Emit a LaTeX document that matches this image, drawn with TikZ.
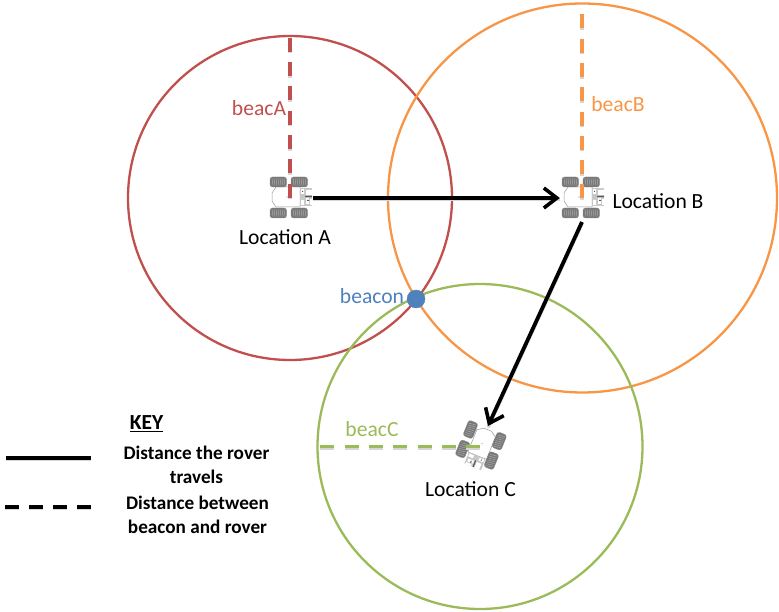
\documentclass[tikz,border=0pt]{standalone}
\usepackage{fontspec}
\setmainfont{Carlito}
\usetikzlibrary{arrows.meta}
\definecolor{cred}{RGB}{192,80,77}
\definecolor{corange}{RGB}{247,150,70}
\definecolor{cgreen}{RGB}{155,187,89}
\definecolor{cblue}{RGB}{79,129,189}
\definecolor{tyre}{RGB}{120,120,120}
\tikzset{
  ring/.style={circle,draw=#1,line width=2.3pt,fill=none,inner sep=0pt},
  shad/.style={preaction={draw=black!16,line width=3.6pt,-,transform canvas={yshift=-1.6pt}}},
  shaddash/.style={preaction={draw=black!16,line width=3.6pt,dash pattern=on 14pt off 10.3pt,transform canvas={yshift=-1.6pt}}},
  beacline/.style={shaddash,draw=#1,line width=3.8pt,dash pattern=on 14pt off 10.3pt},
  lbl/.style={font=\fontsize{21.6}{26}\selectfont,inner sep=0pt,text=#1},
  keytext/.style={font=\bfseries\fontsize{19.2}{23.6}\selectfont,inner sep=0pt,align=center},
  travel/.style={shad,draw=black,line width=3.8pt,-{Straight Barb[length=13pt,width=20pt,line width=3.6pt]}},
  roverbox/.style={minimum width=44pt,minimum height=40pt,inner sep=0pt,draw=none},
  tyrepart/.style={fill=tyre,draw=black!45,line width=.4pt,rounded corners=2.5pt},
  rover/.pic={
    \draw[black!40,line width=.5pt,fill=white] (-14,-11) -- (10,-11) -- (10,9) -- (-14,9)
       -- (-18,3) -- (-18,-5) -- cycle;
    \fill[black!45] (-3,-1) circle (.6);
    \foreach \p in {(-20,-21),(1,-21),(-20,10),(1,10)}
      \draw[tyrepart] \p rectangle ++(16.5,10);
    \foreach \y in {-21,10}{\foreach \x in {-18,-16,-14,-12,-10,-8,-6,3,5,7,9,11,13,15}{
      \draw[black!32,line width=.45pt] (\x,\y+1.5) -- (\x+1,\y+8.5);}}
    \fill[black!22] (10,-10) rectangle (22,8);
    \fill[white] (11,-9) rectangle (14,-4) (11,2) rectangle (14,7) (16,-8) rectangle (22,-3) (16,0) rectangle (19,6) (20,1) rectangle (22,7);
    \fill[black!65] (15,-2) rectangle (22,-.8) (17,2) rectangle (19,3) (12,-7) rectangle (13,-6);
  }
}
\begin{document}
\begin{tikzpicture}[x=1pt,y=-1pt]
\useasboundingbox (0,0) rectangle (779,612);
% circles
\node[ring=cred,minimum size=324pt] (cA) at (290,198) {};
\node[ring=corange,minimum size=389pt] (cB) at (582.5,198) {};
\node[ring=cgreen,minimum size=325pt] (cC) at (480,446.5) {};
% rovers
\node[roverbox] (rA) at (290,198) {};
\node[roverbox] (rB) at (582,198) {};
\node[inner sep=0pt,minimum size=30pt] (rC) at (480,446) {};
\pic at (rA) {rover};
\pic at (rB) {rover};
\pic[rotate=-112] at (rC) {rover};
% distance lines
\draw[beacline=cred] (cA.north) ++(0,3) -- (rA.center);
\draw[beacline=corange] (cB.north) ++(-.5,12) -- (rB.center);
\draw[beacline=cgreen] (cC.west) ++(4,0) -- (rC.center |- cC.west);
% travel arrows
\coordinate (bOut) at (582,222);
\coordinate (cIn) at (488,426);
\draw[travel] (rA.east) ++(1,0) -- (rB.west);
\draw[travel] (bOut) -- (cIn);
% beacon
\node[circle,fill=cblue,draw=cblue,inner sep=0pt,minimum size=18pt] (bc) at (416,299) {};
% labels
\node[lbl=cred] (lA) at (259,108) {beacA};
\node[lbl=corange] (lB) at (618,104) {beacB};
\node[lbl=cgreen] (lC) at (372,429) {beacC};
\node[lbl=cblue] (lD) at (372,296) {beacon};
\node[lbl=black] (la) at (285,237) {Location A};
\node[lbl=black] (lb) at (658,201) {Location B};
\node[lbl=black] (lc) at (470.5,489) {Location C};
% key
\node[keytext,font=\bfseries\fontsize{21.5}{25}\selectfont] (key) at (146.5,424) {\underline{KEY}};
\node[keytext] (k1) at (196.5,465) {Distance the rover\\travels};
\node[keytext] (k2) at (197.5,515) {Distance between\\beacon and rover};
\coordinate (a1) at (6,458); \coordinate (a2) at (91,458);
\coordinate (b1) at (5,507); \coordinate (b2) at (91,507);
\draw[shad,draw=black,line width=3.8pt] (a1) -- (a2);
\draw[preaction={draw=black!16,line width=3.6pt,dash pattern=on 13.7pt off 10.3pt,transform canvas={yshift=-1.6pt}},draw=black,line width=3.8pt,dash pattern=on 13.7pt off 10.3pt] (b1) -- (b2);
\end{tikzpicture}
\end{document}
